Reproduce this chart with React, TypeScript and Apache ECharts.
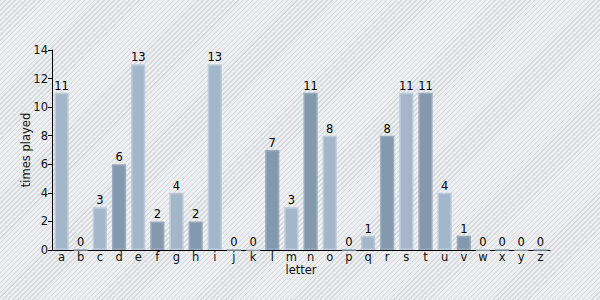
import React, { useEffect, useRef } from "react";
import * as echarts from "echarts";

const letters = ["a","b","c","d","e","f","g","h","i","j","k","l","m","n","o","p","q","r","s","t","u","v","w","x","y","z"];
const timesPlayed = [11,0,3,6,13,2,4,2,13,0,0,7,3,11,8,0,1,8,11,11,4,1,0,0,0,0];
const yTicks = [0, 2, 4, 6, 8, 10, 12, 14];

const FONT = "DejaVu Sans";

export default function App() {
  const ref = useRef<HTMLDivElement>(null);
  useEffect(() => {
    if (!ref.current) return;
    const chart = echarts.init(ref.current, undefined, { renderer: "svg" });
    const data = timesPlayed.map((v, i) => {
      const dark = i % 2 === 1;
      return {
        value: v,
        itemStyle: {
          color: dark ? "#8599ae" : "#a3b6ca",
          borderColor: dark ? "#97a9bc" : "#bccbdb",
          borderWidth: 1.5,
        },
      };
    });
    chart.setOption({
      animation: false,
      backgroundColor: "transparent",
      textStyle: { fontFamily: FONT },
      grid: { left: 52, right: 50, top: 50, bottom: 50, containLabel: false },
      xAxis: {
        type: "category",
        data: letters,
        name: "letter",
        nameLocation: "middle",
        nameGap: 14,
        nameMoveOverlap: false,
        nameTextStyle: { color: "#111", fontSize: 11.5, fontFamily: FONT, verticalAlign: "top" },
        axisLine: { lineStyle: { color: "#000", width: 1 } },
        axisTick: { alignWithLabel: true, length: 3, lineStyle: { color: "#000" } },
        axisLabel: { color: "#111", fontSize: 11.5, fontFamily: FONT, margin: 1 },
      },
      yAxis: {
        type: "value",
        min: yTicks[0],
        max: yTicks[yTicks.length - 1],
        interval: 2,
        name: "times played",
        nameLocation: "middle",
        nameGap: 20,
        nameMoveOverlap: false,
        nameTextStyle: { color: "#111", fontSize: 11.5, fontFamily: FONT },
        axisLine: { show: true, lineStyle: { color: "#000", width: 1 } },
        axisTick: { show: true, length: 4, lineStyle: { color: "#000" } },
        axisLabel: { color: "#111", fontSize: 11.5, fontFamily: FONT, margin: 4 },
        splitLine: { show: false },
      },
      series: [
        {
          type: "bar",
          data,
          barCategoryGap: "26%",
          label: {
            show: true,
            position: "top",
            distance: 1,
            color: "#000",
            fontSize: 11.5,
            fontFamily: FONT,
          },
        },
      ],
    });
    return () => chart.dispose();
  }, []);
  return (
    <div
      style={{
        position: "fixed",
        left: 0,
        top: 0,
        width: 600,
        height: 300,
        background:
          "repeating-linear-gradient(135deg, #d6d9dc 0px, #d6d9dc 1px, #eceef0 1px, #eceef0 3.5px)",
      }}
    >
      <div ref={ref} style={{ width: 600, height: 300 }} />
    </div>
  );
}
